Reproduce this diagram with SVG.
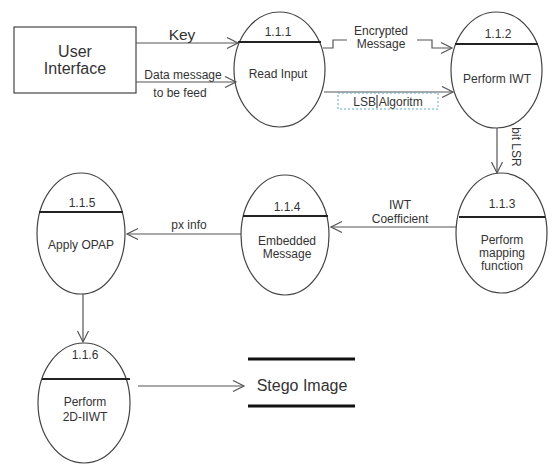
<svg xmlns="http://www.w3.org/2000/svg" width="557" height="467" viewBox="0 0 557 467">
<defs>
<style>
.bg{fill:#fff}
.node{fill:#fff;stroke:#444;stroke-width:1.2}
.div{stroke:#222;stroke-width:2}
.t{font-family:"Liberation Sans",Arial,sans-serif;font-size:12px;fill:#333;text-anchor:middle}
.big{font-size:16px}
.k{font-size:15.5px}
.conn{fill:none;stroke:#555;stroke-width:1.2}
.store{stroke:#111;stroke-width:3}
.lbl{fill:none;stroke:#5aaed0;stroke-width:1;stroke-dasharray:2,2}
</style>
<marker id="ah" markerUnits="userSpaceOnUse" markerWidth="14" markerHeight="14" refX="12" refY="6" orient="auto">
<path d="M1,0.5 L12,6 L1,11.5" fill="none" stroke="#555" stroke-width="1.2"/>
</marker>
</defs>
<rect class="bg" x="0" y="0" width="557" height="467"/>

<g id="user-interface">
<rect x="14" y="27" width="122" height="66" fill="#fff" stroke="#444" stroke-width="1.2"/>
<text class="t big" x="75" y="57">User</text>
<text class="t big" x="75" y="74">Interface</text>
</g>

<g id="n111">
<ellipse class="node" cx="279.5" cy="69.5" rx="45.5" ry="57.5"/>
<line class="div" x1="238" y1="42" x2="321" y2="42"/>
<text class="t" x="278" y="36">1.1.1</text>
<text class="t" x="278" y="78">Read Input</text>
</g>

<g id="n112">
<ellipse class="node" cx="496.5" cy="70" rx="45.5" ry="58"/>
<line class="div" x1="455" y1="44" x2="538" y2="44"/>
<text class="t" x="498" y="38">1.1.2</text>
<text class="t" x="497" y="83">Perform IWT</text>
</g>

<g id="n113">
<ellipse class="node" cx="501.5" cy="233" rx="45.5" ry="60"/>
<line class="div" x1="459" y1="217" x2="545" y2="217"/>
<text class="t" x="502" y="208">1.1.3</text>
<text class="t" x="502" y="244">Perform</text>
<text class="t" x="502" y="257">mapping</text>
<text class="t" x="502" y="270">function</text>
</g>

<g id="n114">
<ellipse class="node" cx="285" cy="235" rx="44" ry="60"/>
<line class="div" x1="243" y1="216" x2="328" y2="216"/>
<text class="t" x="287" y="211">1.1.4</text>
<text class="t" x="287" y="245">Embedded</text>
<text class="t" x="287" y="258">Message</text>
</g>

<g id="n115">
<ellipse class="node" cx="81" cy="233.5" rx="44" ry="60.5"/>
<line class="div" x1="39" y1="212" x2="123" y2="212"/>
<text class="t" x="82" y="207">1.1.5</text>
<text class="t" x="81" y="249">Apply OPAP</text>
</g>

<g id="n116">
<ellipse class="node" cx="84" cy="403" rx="46" ry="60"/>
<line class="div" x1="42" y1="379" x2="130" y2="379"/>
<text class="t" x="85" y="359">1.1.6</text>
<text class="t" x="85" y="406">Perform</text>
<text class="t" x="85" y="421">2D-IIWT</text>
</g>

<g id="stego-image">
<line class="store" x1="248" y1="359" x2="355" y2="359"/>
<line class="store" x1="248" y1="406" x2="355" y2="406"/>
<text class="t big" x="302" y="391">Stego Image</text>
</g>

<g id="connectors">
<line class="conn" x1="136" y1="43" x2="238" y2="43" marker-end="url(#ah)"/>
<text class="t k" x="182" y="40">Key</text>
<line class="conn" x1="136" y1="82" x2="236" y2="82" marker-end="url(#ah)"/>
<text class="t" x="183" y="79">Data message</text>
<text class="t" x="180" y="97">to be feed</text>

<polyline class="conn" points="323,48 333,48 333,40 347,40"/>
<polyline class="conn" points="417,40 432,40 432,48 452,48" marker-end="url(#ah)"/>
<text class="t" x="381" y="35">Encrypted</text>
<text class="t" x="381" y="48">Message</text>

<line class="conn" x1="324" y1="92" x2="453" y2="92" marker-end="url(#ah)"/>
<rect class="lbl" x="338" y="93" width="100" height="16"/>
<text class="t" x="388" y="106">LSB Algoritm</text>
<line x1="377" y1="95" x2="377" y2="108" stroke="#222" stroke-width="1"/>

<line class="conn" x1="497" y1="128" x2="497" y2="173" marker-end="url(#ah)"/>
<text class="t" transform="translate(512,147) rotate(90)">bit LSR</text>

<line class="conn" x1="457" y1="227" x2="331" y2="227" marker-end="url(#ah)"/>
<text class="t" x="400" y="209">IWT</text>
<text class="t" x="400" y="223">Coefficient</text>

<line class="conn" x1="241" y1="234" x2="127" y2="234" marker-end="url(#ah)"/>
<text class="t" x="189" y="229">px info</text>

<line class="conn" x1="83" y1="294" x2="83" y2="342" marker-end="url(#ah)"/>

<line class="conn" x1="138" y1="386" x2="244" y2="386" marker-end="url(#ah)"/>
</g>
</svg>
